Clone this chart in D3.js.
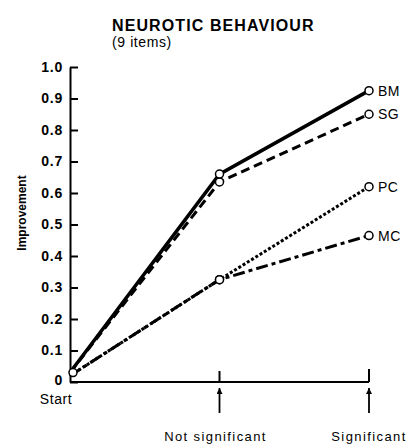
<!DOCTYPE html>
<html>
<head>
<meta charset="utf-8">
<script src="https://cdn.jsdelivr.net/npm/d3@7"></script>
<style>
  body { margin: 0; background: #fff; }
  text { font-family: "Liberation Sans", Arial, sans-serif; fill: #000; }
</style>
</head>
<body>
<div id="chart"></div>
<script>
const stages = ["Start", "Not significant", "Significant"]
const bm = [0.03, 0.66, 0.925]
const sg = [0.03, 0.635, 0.85]
const pc = [0.02, 0.325, 0.62]
const mc = [0.02, 0.325, 0.465]
const yTicks = [0, 0.1, 0.2, 0.3, 0.4, 0.5, 0.6, 0.7, 0.8, 0.9, 1.0]

const series = [
    { name: "MC", values: mc, dash: "12,4,4,4", w: 3 },
    { name: "PC", values: pc, dash: "3,2", w: 3 },
    { name: "SG", values: sg, dash: "9,5", w: 3 },
    { name: "BM", values: bm, dash: null, w: 3.5 }
]

const width = 411, height = 448

const svg = d3.select('#chart').append('svg')
    .attr('width', width)
    .attr('height', height)

const x = d3.scalePoint()
    .domain(stages)
    .range([70, 369])

const y = d3.scaleLinear()
    .domain([0, 1])
    .range([382, 67])

// title
svg.append('text')
    .attr('x', 112).attr('y', 31)
    .style('font-size', '16px')
    .style('font-weight', 'bold')
    .style('letter-spacing', '1.1px')
    .text('NEUROTIC BEHAVIOUR')
svg.append('text')
    .attr('x', 112).attr('y', 47)
    .style('font-size', '14px')
    .style('letter-spacing', '0.6px')
    .text('(9 items)')

// y axis
const yAxis = svg.append('g')
    .attr('transform', 'translate(' + x('Start') + ',0)')
    .call(
        d3.axisLeft(y)
            .tickValues(yTicks)
            .tickFormat(d => d === 0 ? '0' : d3.format('.1f')(d))
            .tickSize(-8)
            .tickSizeOuter(0)
            .tickPadding(7)
    )
yAxis.select('.domain').attr('stroke-width', 2)
yAxis.selectAll('.tick line').attr('stroke-width', 2)
yAxis.selectAll('.tick text')
    .style('font-size', '14px')
    .style('font-weight', 'bold')
    .style('letter-spacing', '0.8px')
    .attr('font-family', null)
yAxis.selectAll('.tick text')
    .filter(d => d === 0)
    .attr('dy', '0.2em')

svg.append('text')
    .attr('transform', 'translate(26,213) rotate(-90)')
    .attr('text-anchor', 'middle')
    .style('font-size', '12px')
    .style('font-weight', 'bold')
    .text('Improvement')

// x axis
svg.append('line')
    .attr('x1', x('Start')).attr('x2', x('Significant'))
    .attr('y1', y(0)).attr('y2', y(0))
    .attr('stroke', '#000').attr('stroke-width', 2)

svg.selectAll('.xtick')
    .data(stages.slice(1))
    .enter().append('line')
    .attr('x1', d => x(d)).attr('x2', d => x(d))
    .attr('y1', y(0)).attr('y2', (d, i) => y(0) - (i === 0 ? 11 : 13))
    .attr('stroke', '#000').attr('stroke-width', 2)

svg.append('defs').append('marker')
    .attr('id', 'head')
    .attr('viewBox', '0 0 10 10')
    .attr('refX', 10).attr('refY', 5)
    .attr('markerWidth', 10).attr('markerHeight', 6)
    .attr('markerUnits', 'userSpaceOnUse')
    .attr('orient', 'auto')
    .append('path')
    .attr('d', 'M0,0 L10,5 L0,10 Z')

svg.selectAll('.arrow')
    .data(stages.slice(1))
    .enter().append('line')
    .attr('x1', d => x(d)).attr('x2', d => x(d))
    .attr('y1', 413).attr('y2', 388)
    .attr('stroke', '#000').attr('stroke-width', 1.8)
    .attr('marker-end', 'url(#head)')

const xLabelOffset = { "Start": [-14, 404], "Not significant": [-4, 441], "Significant": [0, 441] }
svg.selectAll('.xlab')
    .data(stages)
    .enter().append('text')
    .attr('x', d => x(d) + xLabelOffset[d][0])
    .attr('y', d => xLabelOffset[d][1])
    .attr('text-anchor', 'middle')
    .style('font-size', d => d === 'Start' ? '14px' : '13px')
    .style('letter-spacing', d => d === 'Start' ? '0.6px' : '1.4px')
    .text(d => d)

// lines
const line = d3.line()
    .x((d, i) => x(stages[i]))
    .y(d => y(d))

svg.selectAll('.series')
    .data(series)
    .enter().append('path')
    .attr('d', d => line(d.values))
    .attr('fill', 'none')
    .attr('stroke', '#000')
    .attr('stroke-width', d => d.w)
    .attr('stroke-dasharray', d => d.dash)

// circles
const pts = []
series.forEach(s => s.values.forEach((v, i) => {
    if (i > 0) pts.push({ i: i, v: v })
}))
pts.push({ i: 0, v: bm[0] })

svg.selectAll('.pt')
    .data(pts)
    .enter().append('circle')
    .attr('cx', d => x(stages[d.i]) + (d.i === 0 ? 3 : 0))
    .attr('cy', d => y(d.v))
    .attr('r', 4)
    .attr('fill', '#fff')
    .attr('stroke', '#000')
    .attr('stroke-width', 1.5)

// end labels
svg.selectAll('.lab')
    .data(series)
    .enter().append('text')
    .attr('x', x('Significant') + 9)
    .attr('y', d => y(d.values[2]) + 5)
    .style('font-size', '14px')
    .style('letter-spacing', '0.5px')
    .text(d => d.name)
</script>
</body>
</html>
